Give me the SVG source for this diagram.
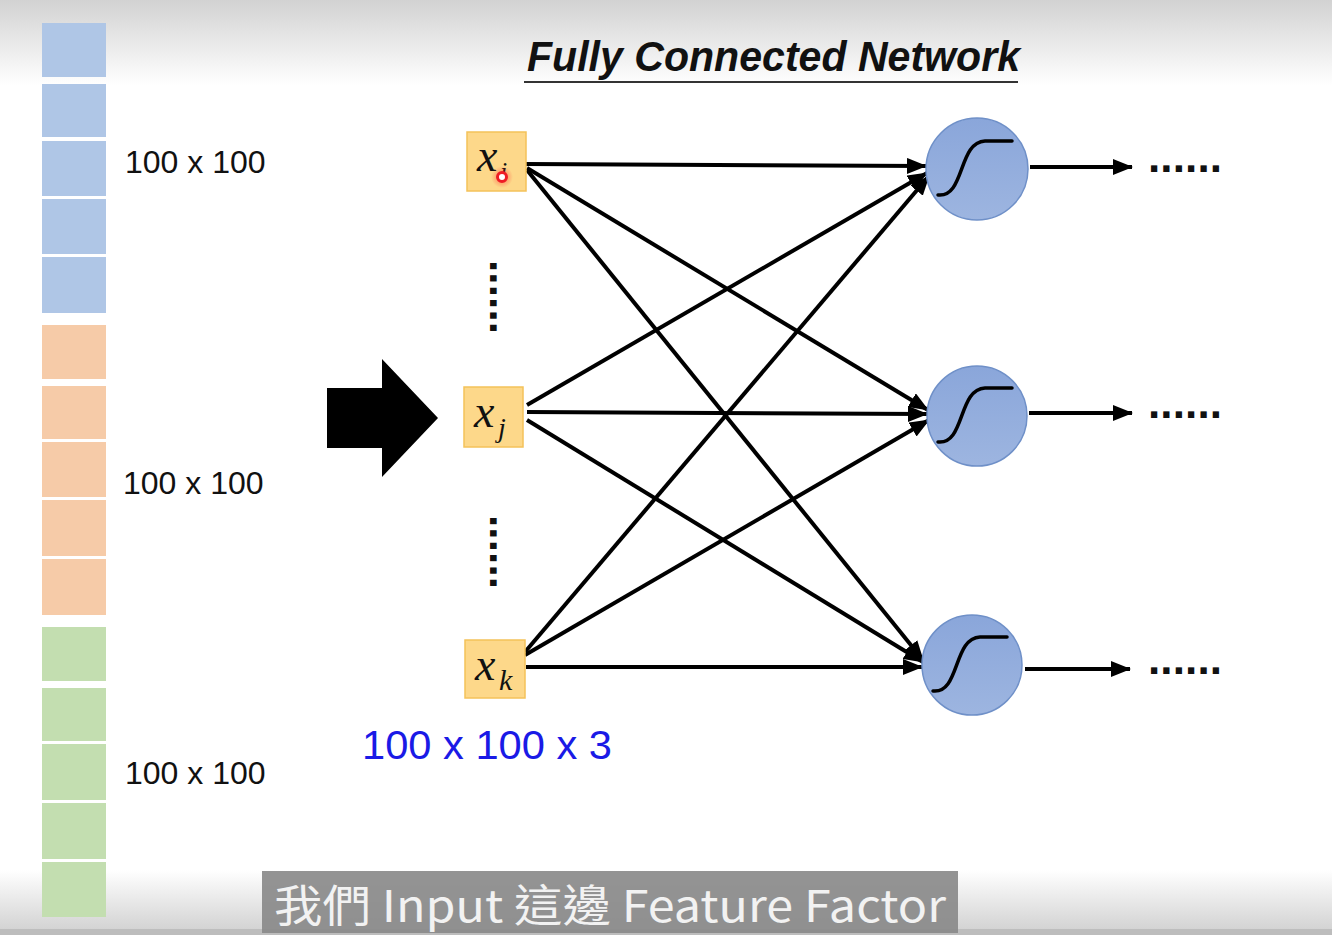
<svg xmlns="http://www.w3.org/2000/svg" width="1332" height="935" viewBox="0 0 1332 935">
<style>
.lbl{font-family:"Liberation Sans",Arial,sans-serif;font-size:32px;fill:#111}
.blue{fill:#AFC6E6}
.orange{fill:#F6CBA8}
.green{fill:#C3DEB0}
.inbox{fill:#FDD88A;stroke:#F4C25A;stroke-width:1.5}
.xv{font-family:"Liberation Serif","Times New Roman",serif;font-style:italic;fill:#111}
.neuron{fill:url(#ng);stroke:#6F90C8;stroke-width:1.5}
.sig{fill:none;stroke:#000;stroke-width:3.5;stroke-linecap:round}
.conn{stroke:#000;stroke-width:4;fill:none}
.dots{font-family:"Liberation Sans",Arial,sans-serif;font-weight:bold;font-size:44px;fill:#111}
</style>
<defs>
<linearGradient id="bgTop" x1="0" y1="0" x2="0" y2="1">
<stop offset="0" stop-color="#d2d2d2"/><stop offset="1" stop-color="#ffffff"/>
</linearGradient>
<linearGradient id="bgBot" x1="0" y1="0" x2="0" y2="1">
<stop offset="0" stop-color="#ffffff"/><stop offset="1" stop-color="#cfcfcf"/>
</linearGradient>
<linearGradient id="ng" x1="0" y1="0" x2="0" y2="1">
<stop offset="0" stop-color="#8AA6DA"/><stop offset="1" stop-color="#9DB5E0"/>
</linearGradient>
<radialGradient id="glow">
<stop offset="0" stop-color="#ff3030" stop-opacity="0.6"/><stop offset="1" stop-color="#ff3030" stop-opacity="0"/>
</radialGradient>
<marker id="ah" viewBox="0 0 20 16" refX="19" refY="8" markerWidth="20" markerHeight="16" markerUnits="userSpaceOnUse" orient="auto">
<path d="M0,0 L20,8 L0,16 z" fill="#000"/>
</marker>
</defs>
<rect width="1332" height="935" fill="#fff"/>
<rect width="1332" height="85" fill="url(#bgTop)"/>
<rect y="870" width="1332" height="65" fill="url(#bgBot)"/>
<rect y="929" width="1332" height="6" fill="#bdbdbd"/>

<g id="input-column">
<rect class="blue" x="42" y="23" width="64" height="54"/>
<rect class="blue" x="42" y="84" width="64" height="53"/>
<rect class="blue" x="42" y="141" width="64" height="55"/>
<rect class="blue" x="42" y="199" width="64" height="55"/>
<rect class="blue" x="42" y="257" width="64" height="56"/>
<rect class="orange" x="42" y="325" width="64" height="54"/>
<rect class="orange" x="42" y="386" width="64" height="53"/>
<rect class="orange" x="42" y="442" width="64" height="55"/>
<rect class="orange" x="42" y="500" width="64" height="56"/>
<rect class="orange" x="42" y="559" width="64" height="56"/>
<rect class="green" x="42" y="627" width="64" height="54"/>
<rect class="green" x="42" y="688" width="64" height="53"/>
<rect class="green" x="42" y="744" width="64" height="56"/>
<rect class="green" x="42" y="803" width="64" height="56"/>
<rect class="green" x="42" y="862" width="64" height="55"/>
<text class="lbl" x="125" y="173">100 x 100</text>
<text class="lbl" x="123" y="494">100 x 100</text>
<text class="lbl" x="125" y="784">100 x 100</text>
</g>

<g id="big-arrow">
<path d="M327,388 L382,388 L382,359 L438,418 L382,477 L382,448 L327,448 z" fill="#000"/>
</g>

<g id="title">
<text x="527" y="71" font-family="Liberation Sans,Arial,sans-serif" font-weight="bold" font-style="italic" font-size="43" fill="#111" textLength="493" lengthAdjust="spacingAndGlyphs">Fully Connected Network</text>
<line x1="524" y1="82" x2="1018" y2="82" stroke="#333" stroke-width="2"/>
</g>

<g id="connectors">
<line class="conn" x1="526" y1="164" x2="926" y2="166" marker-end="url(#ah)"/>
<line class="conn" x1="527" y1="168" x2="928" y2="410" marker-end="url(#ah)"/>
<line class="conn" x1="527" y1="170" x2="923" y2="660" marker-end="url(#ah)"/>
<line class="conn" x1="527" y1="405" x2="927" y2="173" marker-end="url(#ah)"/>
<line class="conn" x1="527" y1="412" x2="927" y2="414" marker-end="url(#ah)"/>
<line class="conn" x1="527" y1="420" x2="923" y2="662" marker-end="url(#ah)"/>
<line class="conn" x1="525" y1="652" x2="929" y2="176" marker-end="url(#ah)"/>
<line class="conn" x1="525" y1="655" x2="929" y2="420" marker-end="url(#ah)"/>
<line class="conn" x1="526" y1="667" x2="922" y2="667" marker-end="url(#ah)"/>
<line class="conn" x1="1030" y1="167" x2="1132" y2="167" marker-end="url(#ah)"/>
<line class="conn" x1="1029" y1="413" x2="1132" y2="413" marker-end="url(#ah)"/>
<line class="conn" x1="1025" y1="669" x2="1130" y2="669" marker-end="url(#ah)"/>
</g>

<g id="x-i">
<rect class="inbox" x="467" y="132" width="59" height="59"/>
<text class="xv" x="477" y="171" font-size="46">x</text>
<text class="xv" x="500" y="180" font-size="26">i</text>
</g>
<g id="x-j">
<rect class="inbox" x="464" y="387" width="59" height="60"/>
<text class="xv" x="474" y="427" font-size="46">x</text>
<text class="xv" x="498" y="437" font-size="28">j</text>
</g>
<g id="x-k">
<rect class="inbox" x="465" y="640" width="60" height="58"/>
<text class="xv" x="475" y="680" font-size="46">x</text>
<text class="xv" x="499" y="690" font-size="30">k</text>
</g>

<g id="cursor">
<circle cx="502" cy="177" r="11" fill="url(#glow)"/>
<circle cx="502" cy="177" r="4.5" fill="#fff" stroke="#ee1c24" stroke-width="3"/>
</g>

<g id="vdots">
<text class="dots" transform="translate(490,260) rotate(90)" font-size="42" textLength="74" lengthAdjust="spacing">......</text>
<text class="dots" transform="translate(490,515) rotate(90)" font-size="42" textLength="74" lengthAdjust="spacing">......</text>
</g>

<g id="neuron-1">
<circle class="neuron" cx="977" cy="169" r="51"/>
<path class="sig" transform="translate(977,169)" d="M-39,26 C-12,29 -19,-27 8,-28 L35,-28"/>
</g>
<g id="neuron-2">
<circle class="neuron" cx="977" cy="416" r="50"/>
<path class="sig" transform="translate(977,416)" d="M-39,26 C-12,29 -19,-27 8,-28 L35,-28"/>
</g>
<g id="neuron-3">
<circle class="neuron" cx="972" cy="665" r="50"/>
<path class="sig" transform="translate(972,665)" d="M-39,26 C-12,29 -19,-27 8,-28 L35,-28"/>
</g>

<g id="out-dots">
<text class="dots" x="1148" y="172" textLength="74" lengthAdjust="spacing">......</text>
<text class="dots" x="1148" y="418" textLength="74" lengthAdjust="spacing">......</text>
<text class="dots" x="1148" y="674" textLength="74" lengthAdjust="spacing">......</text>
</g>

<g id="dim-label">
<text x="362" y="759" font-family="Liberation Sans,Arial,sans-serif" font-size="40" fill="#1a1ae6" textLength="250" lengthAdjust="spacingAndGlyphs">100 x 100 x 3</text>
</g>

<g id="subtitle">
<rect x="262" y="871" width="696" height="62" fill="#8a8a8a" opacity="0.92"/>
<text x="274" y="922" font-family="Noto Sans CJK TC,Noto Sans,sans-serif" font-size="44" fill="#f2f2f2" textLength="672" lengthAdjust="spacingAndGlyphs">我們 Input 這邊 Feature Factor</text>
</g>
</svg>
